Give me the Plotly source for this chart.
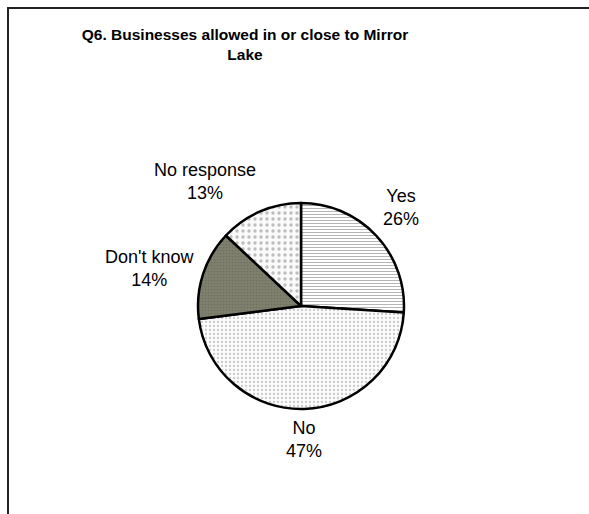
import math
import plotly.graph_objects as go

# Survey answers for Q6
categories = ["Yes", "No", "Don't know", "No response"]
shares = [26, 47, 14, 13]

fill_colors = ["white", "#fbfbfb", "#80806f", "#fafafa"]
pattern_shapes = ["-", ".", ".", "."]
pattern_fg = ["#3a3a3a", "#9a9a9a", "#5c5c50", "#808080"]
pattern_sizes = [3, 4, 3, 6]

W, H = 589, 514
cx, cy, r = 301, 306, 103
label_gap = 8
label_size = 18
label_font = dict(family="Arial, Liberation Sans", size=label_size, color="black")
label_half_height = label_size * 1.3

fig = go.Figure(
    go.Pie(
        labels=categories,
        values=shares,
        sort=False,
        direction="clockwise",
        rotation=0,
        textinfo="none",
        hoverinfo="label+percent",
        marker=dict(
            colors=fill_colors,
            line=dict(color="black", width=2.5),
            pattern=dict(
                shape=pattern_shapes,
                fgcolor=pattern_fg,
                bgcolor=fill_colors,
                size=pattern_sizes,
                solidity=0.25,
                fillmode="overlay",
            ),
        ),
        domain=dict(
            x=[(cx - r) / W, (cx + r) / W],
            y=[(H - cy - r) / H, (H - cy + r) / H],
        ),
        showlegend=False,
    )
)

# Category labels sit just outside each slice, at the slice's mid-angle
total = sum(shares)
annotations = []
start = 0.0
for name, val in zip(categories, shares):
    mid = (start + val / 2) / total * 2 * math.pi
    start += val
    dx, dy = math.sin(mid), math.cos(mid)  # dy points up
    px = cx + (r + label_gap) * dx
    py = cy - (r + label_gap) * dy
    xanchor = "left" if dx > 0.2 else ("right" if dx < -0.2 else "center")
    yanchor = "bottom" if dy > 0.4 else ("top" if dy < -0.4 else "middle")
    yshift = dy * label_half_height / 2 if yanchor == "middle" else 0
    annotations.append(
        dict(
            text=f"{name}<br>{val}%",
            x=px / W,
            y=1 - py / H,
            xref="paper",
            yref="paper",
            xanchor=xanchor,
            yanchor=yanchor,
            yshift=yshift,
            showarrow=False,
            align="center",
            font=label_font,
            borderpad=0,
        )
    )

fig.update_layout(
    width=W,
    height=H,
    margin=dict(l=0, r=0, t=0, b=0),
    paper_bgcolor="white",
    plot_bgcolor="white",
    title=dict(
        text="<b>Q6. Businesses allowed in or close to Mirror<br>Lake</b>",
        x=245 / W,
        xanchor="center",
        y=1 - 40 / H,
        yanchor="top",
        font=dict(family="Arial, Liberation Sans", size=15.5, color="black"),
    ),
    annotations=annotations,
    shapes=[
        dict(
            type="rect",
            xref="paper",
            yref="paper",
            x0=8 / W,
            x1=1.05,
            y0=-0.05,
            y1=1 - 8 / H,
            line=dict(color="#222222", width=2),
            fillcolor="rgba(0,0,0,0)",
        )
    ],
)

fig.write_html("out.html")
